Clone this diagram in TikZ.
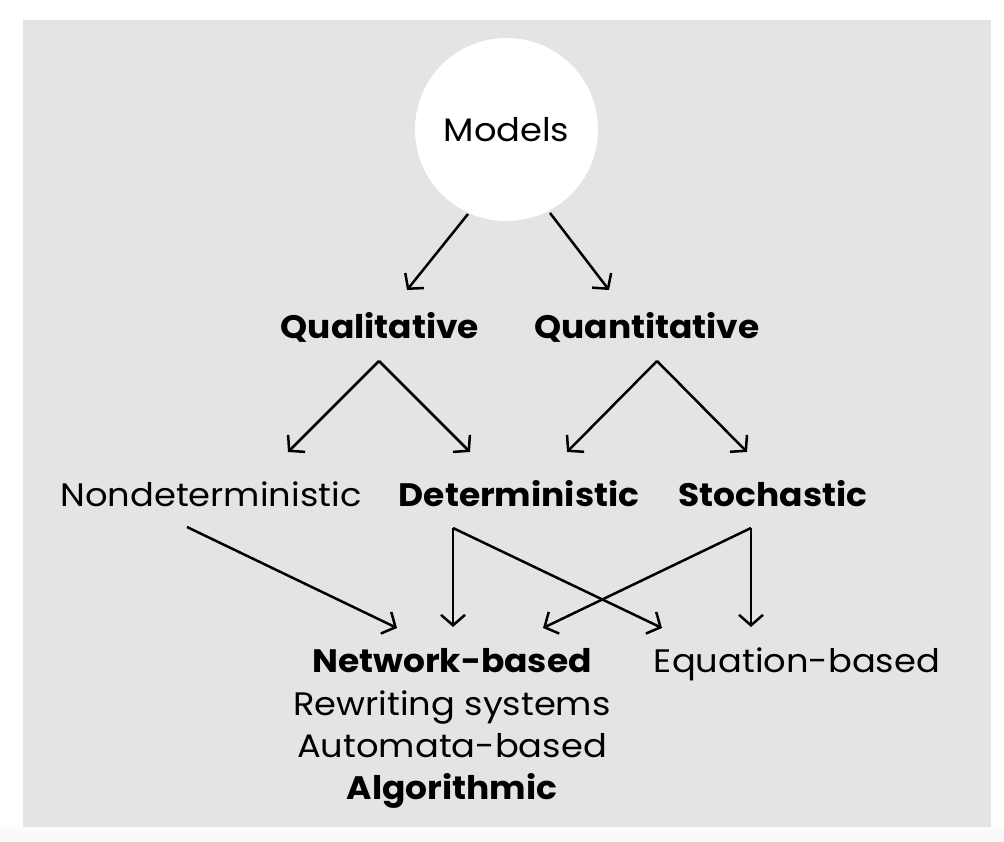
\documentclass[tikz,border=0pt]{standalone}
\usepackage{fontspec}
\setmainfont{Poppins}
\newfontfamily\regf{Poppins}[FakeStretch=1.085]
\newfontfamily\boldf{Poppins}[FakeStretch=1.06]
\usetikzlibrary{arrows.meta}
\definecolor{bg}{RGB}{229,227,228}
\definecolor{band}{RGB}{250,250,250}
\begin{document}
\begin{tikzpicture}[x=1pt,y=-1pt,
  lbl/.style={inner sep=0pt, anchor=base, font=\regf\fontsize{32.5}{38}\selectfont},
  blbl/.style={inner sep=0pt, anchor=base, font=\boldf\fontsize{32.5}{38}\selectfont\bfseries},
  arr/.style={line width=2.5pt, -{Straight Barb[length=10.5pt,width=24pt,line width=2.5pt]}}]
\useasboundingbox (0,0) rectangle (1004,842);
\fill[white] (0,0) rectangle (1004,842);
\fill[band] (0,827) rectangle (1004,842);
\fill[bg] (23,20) rectangle (991,827);

\node[circle, fill=white, minimum size=183pt, inner sep=0pt, font=\regf\fontsize{32.5}{38}\selectfont] (models) at (506.5,129.5) {Models};

\node[blbl] (qual) at (380,338) {Qualitative};
\node[blbl] (quant) at (647,338) {Quantitative};

\node[lbl] (nondet) at (211,506) {Nondeterministic};
\node[blbl] (det) at (519,506) {Deterministic};
\node[blbl] (stoch) at (773,506) {Stochastic};

\node[blbl] (net) at (452,672) {Network-based};
\node[lbl] (rew) at (452,715) {Rewriting systems};
\node[lbl] (auto) at (452,757) {Automata-based};
\node[blbl] (algo) at (452,799) {Algorithmic};
\node[lbl] (eq) at (797,672) {Equation-based};

% connector end points
\coordinate (m1) at (468,214);
\coordinate (m2) at (550,213);
\coordinate (qualin) at (407,290);
\coordinate (quantin) at (609,290);
\coordinate (qualout) at (379,361);
\coordinate (quantout) at (657,361);
\coordinate (nondetin) at (288,452);
\coordinate (detin1) at (470,452);
\coordinate (detin2) at (567,452);
\coordinate (stochin) at (747,452);
\coordinate (nondetout) at (187,527);
\coordinate (detout) at (453,528);
\coordinate (stochout) at (751,528);
\coordinate (netin1) at (397,628);
\coordinate (netin2) at (453,627);
\coordinate (netin3) at (543,628);
\coordinate (eqin1) at (662,628);
\coordinate (eqin2) at (751,627);

\draw[arr] (m1) -- (qualin);
\draw[arr] (m2) -- (quantin);
\draw[arr] (qualout) -- (nondetin);
\draw[arr] (qualout) -- (detin1);
\draw[arr] (quantout) -- (detin2);
\draw[arr] (quantout) -- (stochin);
\draw[arr] (nondetout) -- (netin1);
\draw[arr] (detout) -- (netin2);
\draw[arr] (detout) -- (eqin1);
\draw[arr] (stochout) -- (netin3);
\draw[arr] (stochout) -- (eqin2);
\end{tikzpicture}
\end{document}
